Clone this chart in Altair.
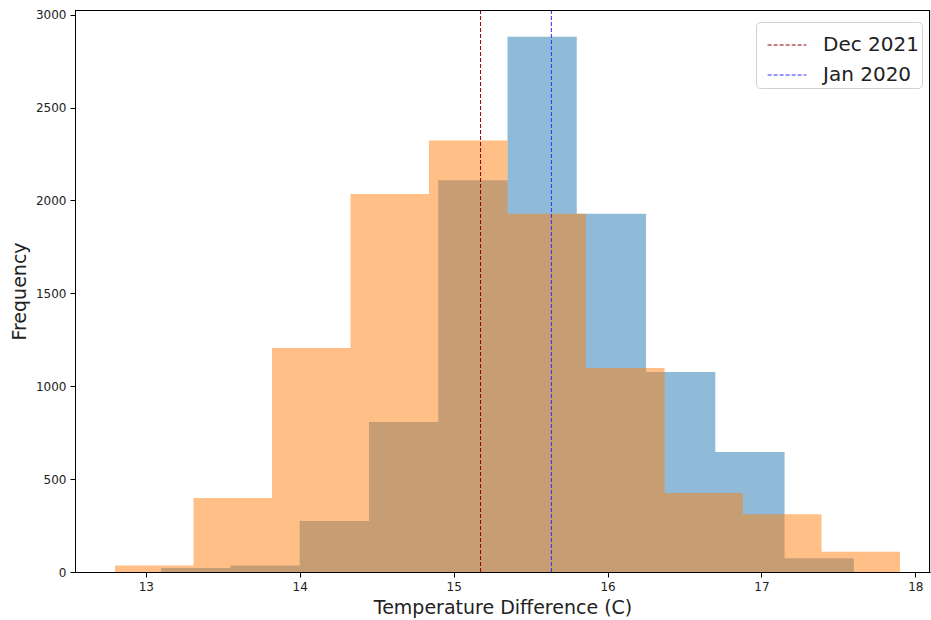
import altair as alt
import pandas as pd

# Jan 2020 histogram (blue)
jan_edges = [13.10, 13.55, 14.00, 14.45, 14.90, 15.35, 15.80, 16.25, 16.70, 17.15, 17.60]
jan_counts = [22, 35, 275, 808, 2109, 2881, 1928, 1077, 646, 74]

# Dec 2021 histogram (orange)
dec_edges = [12.80, 13.31, 13.82, 14.33, 14.84, 15.35, 15.86, 16.37, 16.88, 17.39, 17.90]
dec_counts = [35, 398, 1206, 2035, 2323, 1928, 1098, 425, 311, 109]

# reference lines
line_labels = ["Dec 2021", "Jan 2020"]
line_values = [15.175, 15.635]
line_colors = ["#8b0000", "#2b2bff"]

x_ticks = [13, 14, 15, 16, 17, 18]
y_ticks = [0, 500, 1000, 1500, 2000, 2500, 3000]

# step outlines: each edge carries the count of the bin that starts there
jan_df = pd.DataFrame({"edge": jan_edges, "count": jan_counts + [jan_counts[-1]]})
dec_df = pd.DataFrame({"edge": dec_edges, "count": dec_counts + [dec_counts[-1]]})
lines_df = pd.DataFrame({"label": line_labels, "value": line_values})

FONT = "DejaVu Sans"
W, H = 855, 562
xscale = alt.Scale(domain=[12.54, 18.095], nice=False, zero=False)
yscale = alt.Scale(domain=[0, 3025], nice=False)

xaxis = alt.Axis(values=x_ticks, format="d", grid=False, title="Temperature Difference (C)",
                 tickSize=5, labelFontSize=12, titleFontSize=19, titleFontWeight="normal",
                 titlePadding=6, labelPadding=4, domainColor="black", tickColor="black",
                 labelColor="#222", titleColor="#222", labelFont=FONT, titleFont=FONT)
yaxis = alt.Axis(values=y_ticks, format="d", grid=False, title="Frequency",
                 tickSize=5, labelFontSize=12, titleFontSize=19, titleFontWeight="normal",
                 titlePadding=6, labelPadding=4, domainColor="black", tickColor="black",
                 labelColor="#222", titleColor="#222", labelFont=FONT, titleFont=FONT)

jan = alt.Chart(jan_df).mark_area(interpolate="step-after", color="#1f77b4", opacity=0.5).encode(
    x=alt.X("edge:Q", scale=xscale, axis=xaxis),
    y=alt.Y("count:Q", scale=yscale, axis=yaxis),
)
dec = alt.Chart(dec_df).mark_area(interpolate="step-after", color="#ff7f0e", opacity=0.5).encode(
    x=alt.X("edge:Q", scale=xscale),
    y=alt.Y("count:Q", scale=yscale),
)
rules = alt.Chart(lines_df).mark_rule(strokeDash=[4, 2], strokeWidth=1).encode(
    x=alt.X("value:Q", scale=xscale),
    color=alt.Color("label:N",
                    scale=alt.Scale(domain=line_labels, range=line_colors),
                    legend=alt.Legend(title=None, orient="none", legendX=681, legendY=12,
                                      symbolType="stroke", symbolSize=1500, symbolStrokeWidth=1,
                                      symbolDash=[4, 2], symbolOffset=8,
                                      labelFontSize=20, labelFont=FONT,
                                      labelColor="#222", fillColor="white", strokeColor="#d0d0d0",
                                      cornerRadius=4, padding=3, rowPadding=0,
                                      labelOffset=16)),
)

# top and right edges of the axes frame
frame_top = alt.Chart().mark_rule(color="black", strokeWidth=1).encode(
    x=alt.value(0), x2=alt.value(W), y=alt.value(0.5))
frame_right = alt.Chart().mark_rule(color="black", strokeWidth=1).encode(
    x=alt.value(W - 0.5), y=alt.value(0), y2=alt.value(H))

chart = alt.layer(jan, dec, rules, frame_top, frame_right).properties(
    width=W, height=H,
    padding={"left": 75, "top": 10, "right": 1, "bottom": 48},
    autosize=alt.AutoSizeParams(type="none"),
).configure_view(strokeWidth=0).configure(background="white")

chart.save("out.html", embed_options={"renderer": "svg", "actions": False})
